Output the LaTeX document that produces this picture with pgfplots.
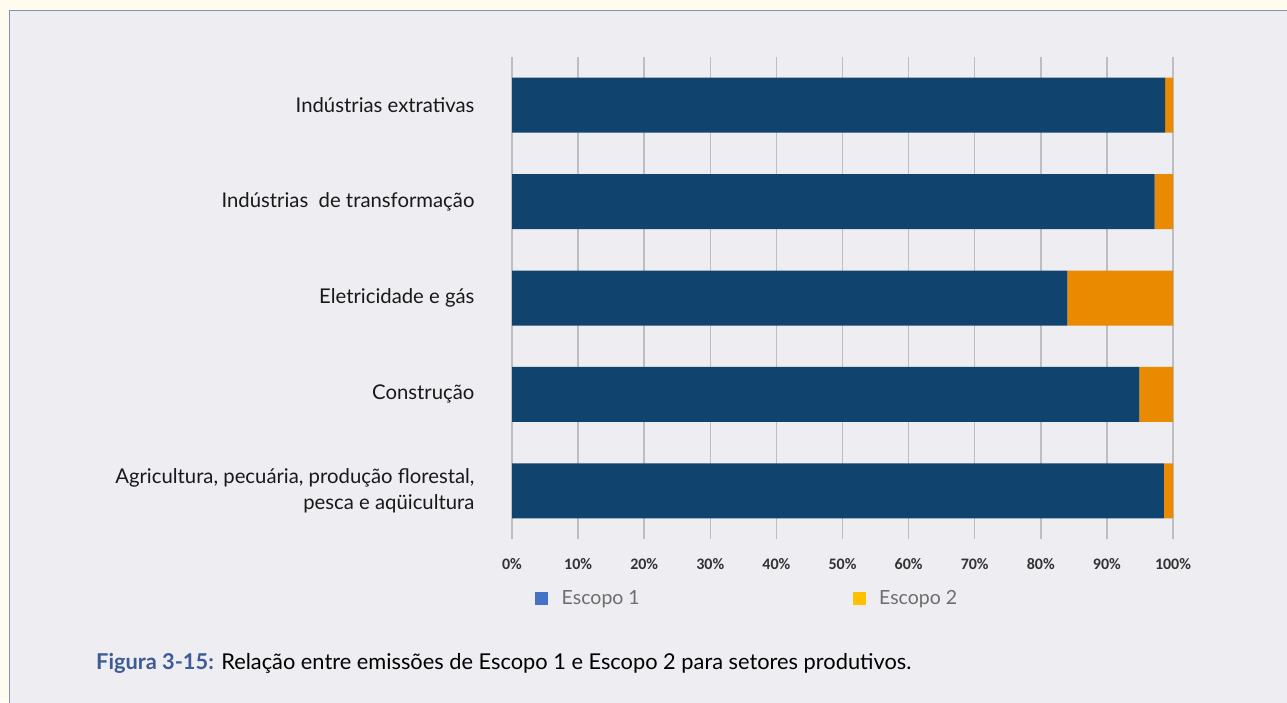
\documentclass[border=0pt]{standalone}
\usepackage{fontspec}
\setmainfont{Lato}
\newfontfamily\tickfont{Carlito}
\usepackage{pgfplots}
\pgfplotsset{compat=1.18}
\definecolor{bgout}{HTML}{FFFBEE}
\definecolor{panel}{HTML}{EDEDF2}
\definecolor{panelborder}{HTML}{8592B0}
\definecolor{sone}{HTML}{10446F}
\definecolor{stwo}{HTML}{E98A00}
\definecolor{lone}{HTML}{4472C4}
\definecolor{ltwo}{HTML}{FFC000}
\definecolor{gridc}{HTML}{BDBDC4}
\definecolor{tickc}{HTML}{333333}
\definecolor{legc}{HTML}{6E6E6E}
\definecolor{capc}{HTML}{3E5B96}
\begin{document}
\begin{tikzpicture}[x=1pt,y=1pt]
\useasboundingbox (0,0) rectangle (1287,702);
\fill[bgout] (0,0) rectangle (1287,702);
\filldraw[fill=panel, draw=panelborder, line width=1pt] (9,-10) rectangle (1300,691);
\begin{axis}[
  at={(512pt,163pt)}, anchor=south west,
  scale only axis, width=661pt, height=482pt,
  xmin=0, xmax=100, ymin=-0.5, ymax=4.5,
  xbar stacked, bar width=55pt,
  axis line style={draw=none}, major tick length=0pt,
  xmajorgrids, grid style={gridc, line width=1.5pt},
  xtick={0,10,...,100},
  xticklabels={0\%,10\%,20\%,30\%,40\%,50\%,60\%,70\%,80\%,90\%,100\%},
  xticklabel style={font=\tickfont\bfseries\fontsize{16}{18}\selectfont, text=tickc, yshift=-16pt},
  ytick={0,1,2,3,4},
  yticklabels={{Agricultura, pecuária, produção florestal,\\pesca e aqüicultura},Construção,Eletricidade e gás,{Indústrias\ \ de transformação},Indústrias extrativas},
  yticklabel style={align=right, font=\fontsize{20.3}{26}\selectfont, text=black!90, xshift=-34pt},
  legend columns=2,
  legend style={draw=none, fill=none, at={(0.035,-0.1224)}, anchor=west,
    font=\fontsize{19.5}{21}\selectfont, text=legc, inner sep=0pt,
    /tikz/every even column/.append style={column sep=211pt},
    /tikz/every odd column/.append style={column sep=12pt}},
  legend cell align=left,
]
\addplot[fill=sone, draw=none, forget plot] coordinates {(98.8,4) (97.2,3) (84.0,2) (94.9,1) (98.6,0)};
\addplot[fill=stwo, draw=none, forget plot] coordinates {(1.2,4) (2.8,3) (16.0,2) (5.1,1) (1.4,0)};
\addlegendimage{legend image code/.code={\fill[lone] (0pt,-6pt) rectangle (12pt,6pt);}}
\addlegendentry{Escopo 1}
\addlegendimage{legend image code/.code={\fill[ltwo] (0pt,-6pt) rectangle (12pt,6pt);}}
\addlegendentry{Escopo 2}
\end{axis}
\node[anchor=base west, inner sep=0pt, font=\fontsize{21.8}{24}\selectfont] at (96,33) {\textcolor{capc}{\textbf{Figura 3-15:}} Relação entre emissões de Escopo 1 e Escopo 2 para setores produtivos.};
\end{tikzpicture}
\end{document}
